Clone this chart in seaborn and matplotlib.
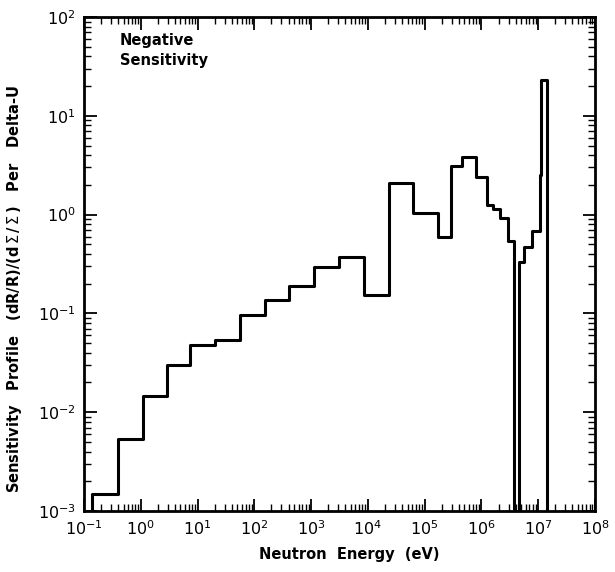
import numpy as np
import pandas as pd
import matplotlib
matplotlib.use("Agg")
import matplotlib.pyplot as plt
import seaborn as sns
from matplotlib.ticker import LogLocator, NullFormatter

# ---- data ----
energy_edges_eV = [0.14, 0.4, 1.09, 2.9, 7.3, 20, 56, 154, 406, 1120, 3080,
                   8500, 23400, 62000, 1.7e5, 2.89e5, 4.52e5, 7.96e5, 1.24e6,
                   1.59e6, 2.1e6, 2.9e6, 3.7e6, 4.55e6, 5.57e6, 7.7e6, 1.06e7,
                   1.12e7, 1.45e7, 2.0e7]
sensitivity = [1.5e-3, 5.4e-3, 0.0146, 0.030, 0.048, 0.054, 0.096, 0.137,
               0.19, 0.295, 0.37, 0.153, 2.09, 1.04, 0.59, 3.1, 3.8, 2.4,
               1.25, 1.14, 0.92, 0.54, 1e-6, 0.33, 0.47, 0.68, 2.5, 23.0, 1e-6]
floor_value = 1e-6  # below the plotted range (drawn off-axis)

x_ticks = [1e-1, 1e0, 1e1, 1e2, 1e3, 1e4, 1e5, 1e6, 1e7, 1e8]
y_ticks = [1e-3, 1e-2, 1e-1, 1e0, 1e1, 1e2]
x_tick_labels = [r"$10^{-1}$", r"$10^{0}$", r"$10^{1}$", r"$10^{2}$", r"$10^{3}$",
                 r"$10^{4}$", r"$10^{5}$", r"$10^{6}$", r"$10^{7}$", r"$10^{8}$"]
y_tick_labels = [r"$10^{-3}$", r"$10^{-2}$", r"$10^{-1}$", r"$10^{0}$",
                 r"$10^{1}$", r"$10^{2}$"]

df = pd.DataFrame({
    "energy": [energy_edges_eV[0]] + energy_edges_eV,
    "value": [floor_value] + sensitivity + [sensitivity[-1]],
})

sns.set_style("ticks")
plt.rcParams["font.family"] = ["DejaVu Sans"]
plt.rcParams["mathtext.fontset"] = "dejavusans"
plt.rcParams["text.color"] = "black"
plt.rcParams["axes.labelcolor"] = "black"
plt.rcParams["xtick.color"] = "black"
plt.rcParams["ytick.color"] = "black"

fig = plt.figure(figsize=(6.15, 5.72), dpi=100)
ax = fig.add_axes([0.1366, 0.1066, 0.9675 - 0.1366, 0.9703 - 0.1066])

sns.lineplot(data=df, x="energy", y="value", ax=ax, sort=False, estimator=None,
             drawstyle="steps-post", color="black", linewidth=2.2)

ax.set_xscale("log")
ax.set_yscale("log")
ax.set_xlim(1e-1, 1e8)
ax.set_ylim(1e-3, 1e2)

ax.set_xticks(x_ticks)
ax.set_xticklabels(x_tick_labels)
ax.set_yticks(y_ticks)
ax.set_yticklabels(y_tick_labels)
ax.xaxis.set_minor_locator(LogLocator(base=10, subs=np.arange(2, 10), numticks=20))
ax.yaxis.set_minor_locator(LogLocator(base=10, subs=np.arange(2, 10), numticks=20))
ax.xaxis.set_minor_formatter(NullFormatter())
ax.yaxis.set_minor_formatter(NullFormatter())

ax.tick_params(which="both", direction="in", top=True, right=True, color="black")
ax.tick_params(which="major", length=9, width=1.3, labelsize=11.5, pad=6)
ax.tick_params(which="minor", length=5, width=1.0)
for s in ax.spines.values():
    s.set_linewidth(2.0)
    s.set_color("black")

ax.set_xlabel("Neutron  Energy  (eV)", fontsize=10.5, fontweight="bold")
ax.set_ylabel(r"Sensitivity   Profile   (dR/R)/(d$\,\Sigma\,$/$\,\Sigma\,$)   Per   Delta-U",
              fontsize=10.5, fontweight="bold")
ax.xaxis.set_label_coords(0.52, -0.073)
ax.yaxis.set_label_coords(-0.118, 0.45)

ax.text(0.07, 0.968, "Negative\nSensitivity", transform=ax.transAxes,
        fontsize=10.5, fontweight="bold", va="top", ha="left", linespacing=1.45)

fig.savefig("out.png", dpi=100)
